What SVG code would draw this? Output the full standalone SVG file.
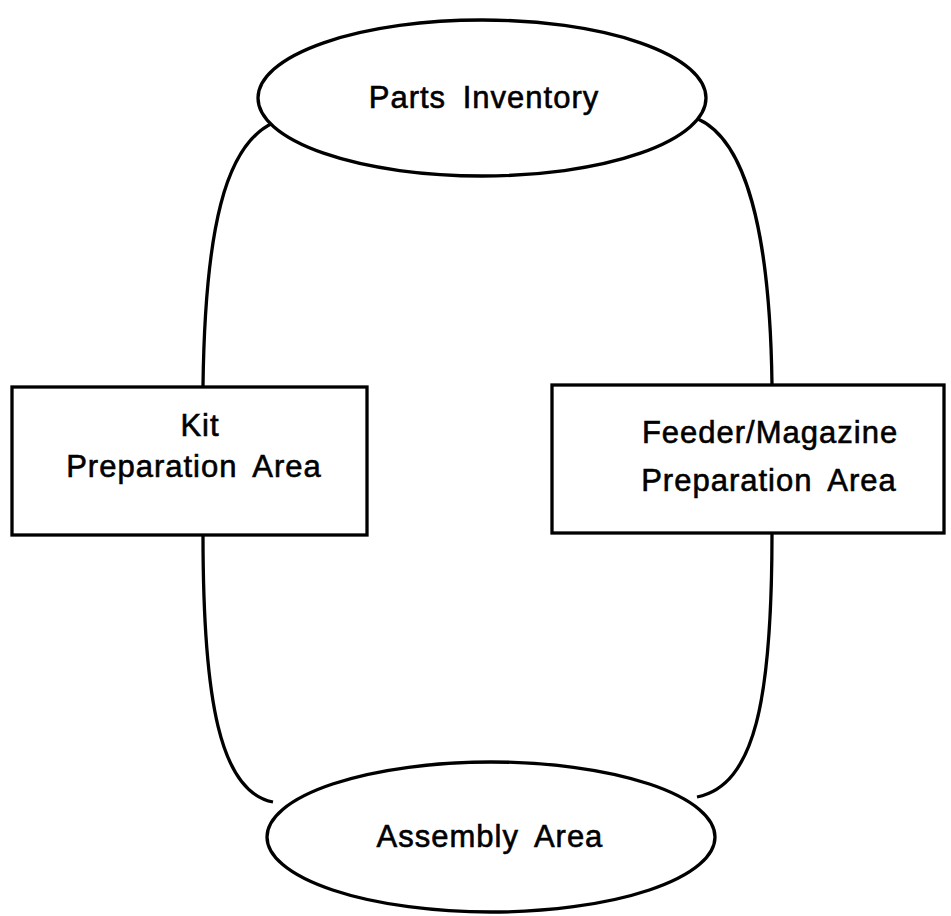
<svg xmlns="http://www.w3.org/2000/svg" width="951" height="916" viewBox="0 0 951 916">
<style>
.s{fill:none;stroke:#000;stroke-width:3.3}
.b{fill:#fff;stroke:#000;stroke-width:3.3}
.t{font-family:"Liberation Sans",Arial,sans-serif;font-size:31px;fill:#000;stroke:#000;stroke-width:0.6;text-anchor:middle;letter-spacing:1px;word-spacing:7px}
</style>
<rect width="951" height="916" fill="#fff"/>
<g id="connectors">
<path class="s" d="M273,123 C225,145 205,230 203,386"/>
<path class="s" d="M698,119 C745,140 770,230 772,385"/>
<path class="s" d="M203,535 C203,700 220,792 273,802"/>
<path class="s" d="M772,533 C772,700 755,785 697,797"/>
</g>
<g id="parts-inventory">
<ellipse class="b" cx="482" cy="98" rx="224" ry="78"/>
<text class="t" x="484" y="108">Parts Inventory</text>
</g>
<g id="kit-prep">
<rect class="b" x="12" y="387" width="355" height="148"/>
<text class="t" x="200" y="436">Kit</text>
<text class="t" x="194" y="477">Preparation Area</text>
</g>
<g id="feeder-prep">
<rect class="b" x="552" y="385" width="392" height="148"/>
<text class="t" x="770" y="443">Feeder/Magazine</text>
<text class="t" x="769" y="491">Preparation Area</text>
</g>
<g id="assembly">
<ellipse class="b" cx="491" cy="837" rx="224" ry="75"/>
<text class="t" x="490" y="847">Assembly Area</text>
</g>
</svg>
